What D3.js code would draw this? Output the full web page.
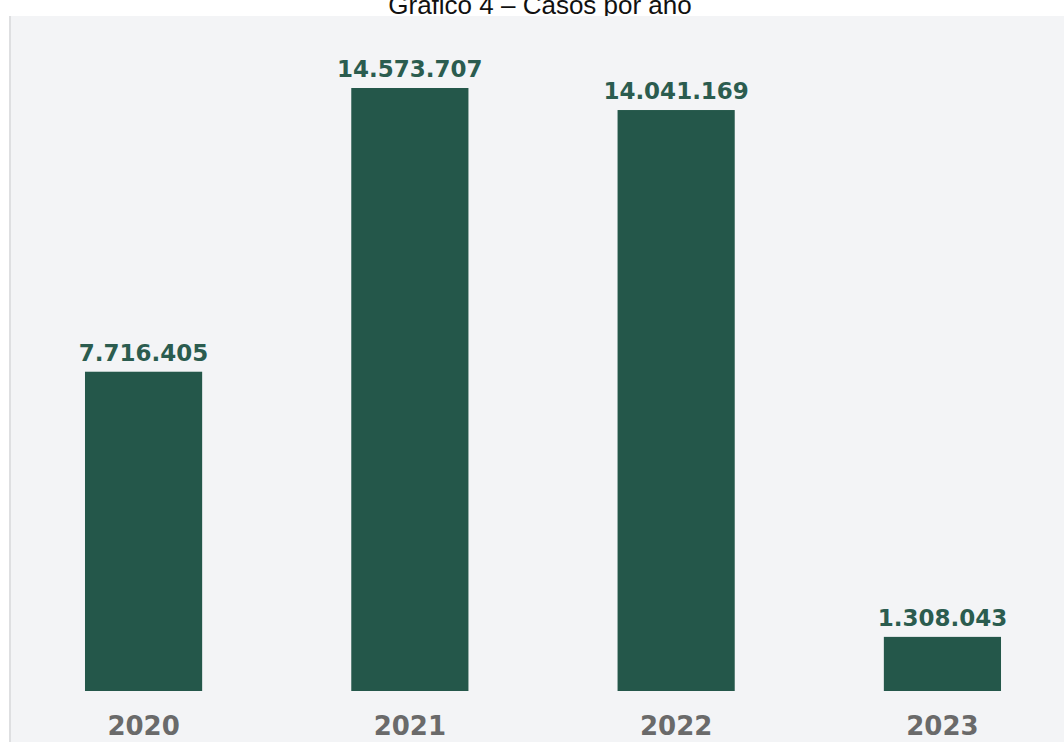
<!DOCTYPE html>
<html>
<head>
<meta charset="utf-8">
<script src="https://cdn.jsdelivr.net/npm/d3@7"></script>
<style>
  body { margin: 0; background: #ffffff; }
  svg { display: block; }
</style>
</head>
<body>
<div id="chart"></div>
<script>
// Data
var years = ["2020", "2021", "2022", "2023"];
var cases = [7716405, 14573707, 14041169, 1308043];
var valueLabels = ["7.716.405", "14.573.707", "14.041.169", "1.308.043"];
var title = "Gráfico 4 – Casos por ano";

var width = 1064,
    height = 742;

var data = years.map(function(y, i) {
  return { year: y, value: cases[i], label: valueLabels[i] };
});

var svg = d3.select("#chart")
  .append("svg")
  .attr("width", width)
  .attr("height", height);

// Title (partly hidden behind the panel, as in the original)
svg.append("text")
  .attr("x", 540)
  .attr("y", 14)
  .attr("text-anchor", "middle")
  .style("font-family", "'Liberation Sans', Arial, sans-serif")
  .style("font-size", "26px")
  .style("fill", "#111")
  .text(title);

// Panel background
svg.append("rect")
  .attr("x", 10)
  .attr("y", 16)
  .attr("width", width - 10)
  .attr("height", height - 16)
  .style("fill", "#f3f4f6");

svg.append("line")
  .attr("x1", 10).attr("x2", 10)
  .attr("y1", 16).attr("y2", height)
  .style("stroke", "#dedfe1")
  .style("stroke-width", 2);

// Scales
var x = d3.scaleBand()
  .domain(years)
  .range([10, 1076])
  .paddingInner(0.56)
  .paddingOuter(0.2816);

var y = d3.scaleLinear()
  .domain([0, d3.max(cases)])
  .range([691, 88]);

// Bars
svg.selectAll("rect.bar")
  .data(data)
  .enter()
  .append("rect")
  .attr("class", "bar")
  .attr("x", function(d) { return x(d.year); })
  .attr("y", function(d) { return y(d.value); })
  .attr("width", x.bandwidth())
  .attr("height", function(d) { return y(0) - y(d.value); })
  .style("fill", "#24574a");

// Value labels above the bars
svg.selectAll("text.value-label")
  .data(data)
  .enter()
  .append("text")
  .attr("class", "value-label")
  .attr("x", function(d) { return x(d.year) + x.bandwidth() / 2; })
  .attr("y", function(d) { return y(d.value) - 11; })
  .attr("text-anchor", "middle")
  .style("font-family", "'DejaVu Sans', Verdana, sans-serif")
  .style("font-weight", "bold")
  .style("font-size", "23px")
  .style("fill", "#2b5c4f")
  .text(function(d) { return d.label; });

// Year labels (x axis)
var xAxis = svg.append("g")
  .attr("transform", "translate(0,691)")
  .call(d3.axisBottom(x).tickSize(0).tickPadding(44));

xAxis.select(".domain").remove();
xAxis.selectAll("text")
  .attr("dy", 0)
  .style("font-family", "'DejaVu Sans', Verdana, sans-serif")
  .style("font-weight", "bold")
  .style("font-size", "26px")
  .style("fill", "#6a6a6a");
</script>
</body>
</html>
